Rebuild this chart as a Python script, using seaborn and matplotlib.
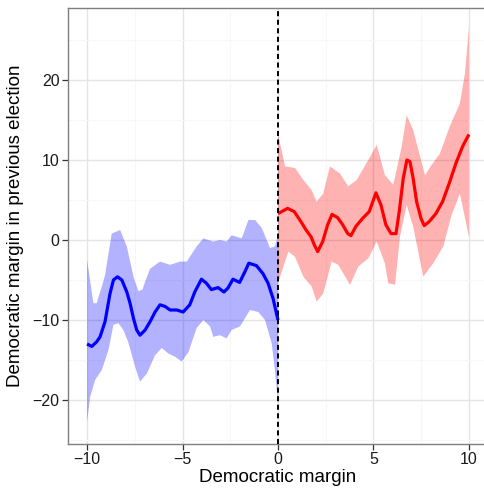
import numpy as np
import pandas as pd
import matplotlib
matplotlib.use("Agg")
import matplotlib.pyplot as plt
from matplotlib.ticker import MultipleLocator, FixedLocator
import seaborn as sns

# ---- data ----
blue_x = [-10.0, -9.75, -9.49, -9.32, -9.06, -8.80, -8.62, -8.41, -8.18, -7.92, -7.75, -7.57, -7.40,
          -7.23, -6.96, -6.70, -6.44, -6.18, -5.92, -5.65, -5.30, -4.97, -4.62, -4.36, -4.01, -3.75,
          -3.49, -3.14, -2.83, -2.62, -2.36, -2.01, -1.74, -1.53, -1.13, -0.79, -0.52, -0.26, 0.0]
blue_y = [-13.0, -13.3, -12.7, -12.1, -10.2, -6.7, -5.0, -4.6, -5.0, -6.5, -7.9, -9.8, -11.25,
          -11.9, -11.25, -10.2, -9.0, -8.1, -8.3, -8.75, -8.75, -9.0, -8.1, -6.5, -4.9, -5.4,
          -6.2, -5.95, -6.5, -6.0, -4.9, -5.3, -4.0, -2.9, -3.2, -4.2, -5.4, -7.3, -10.0]

blue_hi_x = [-10.0, -9.67, -9.50, -9.41, -9.20, -9.06, -8.71, -8.27, -7.92, -7.57, -7.31, -7.10,
             -6.96, -6.70, -6.53, -6.18, -5.65, -5.13, -4.78, -4.26, -3.91, -3.39, -3.04, -2.69,
             -2.43, -1.90, -1.55, -1.20, -0.85, -0.42, -0.16, 0.0]
blue_hi_y = [-2.5, -7.9, -7.9, -7.2, -5.6, -4.4, 0.8, 1.25, -0.8, -4.6, -6.4, -6.2,
             -5.2, -3.6, -3.3, -2.7, -3.1, -2.7, -2.7, -0.8, 0.2, -0.2, 0.0, -0.2,
             0.6, 0.2, 2.5, 2.5, 1.5, -1.0, -0.8, 0.6]

blue_lo_x = [-10.0, -9.84, -9.58, -9.23, -8.88, -8.62, -8.36, -8.10, -7.84, -7.49, -7.23, -6.87,
             -6.44, -6.09, -5.74, -5.39, -5.04, -4.69, -4.26, -3.91, -3.56, -3.39, -3.04, -2.69,
             -2.43, -1.99, -1.47, -1.03, -0.68, -0.33, -0.16, 0.0]
blue_lo_y = [-22.7, -19.6, -17.5, -16.25, -13.75, -10.6, -10.4, -11.25, -12.8, -15.8, -17.7, -16.7,
             -14.4, -13.5, -14.2, -14.6, -15.2, -14.0, -11.0, -10.0, -10.8, -12.1, -11.9, -12.3,
             -11.25, -10.8, -8.75, -9.0, -10.0, -12.9, -16.25, -20.5]

red_x = [0.0, 0.5, 0.85, 1.20, 1.47, 1.73, 1.90, 2.08, 2.34, 2.60, 2.83, 3.12, 3.39, 3.65, 3.82,
         4.08, 4.43, 4.78, 5.13, 5.39, 5.65, 5.92, 6.18, 6.35, 6.56, 6.75, 6.91, 7.08, 7.26, 7.49,
         7.66, 7.92, 8.27, 8.62, 8.97, 9.32, 9.67, 10.0]
red_y = [3.3, 3.95, 3.55, 2.3, 1.25, 0.4, -0.6, -1.45, -0.2, 1.9, 3.2, 2.8, 1.9, 0.8, 0.55,
         1.7, 2.7, 3.55, 5.9, 4.4, 1.9, 0.8, 0.8, 3.55, 7.7, 10.0, 9.8, 7.7, 4.8, 2.7,
         1.8, 2.3, 3.3, 4.8, 7.1, 9.6, 11.7, 13.2]

red_hi_x = [0.0, 0.37, 0.89, 1.33, 1.76, 2.02, 2.37, 2.72, 3.25, 3.68, 4.12, 4.73, 5.17, 5.60,
            6.04, 6.48, 6.74, 7.08, 7.70, 8.05, 8.48, 9.0, 9.53, 9.79, 10.0]
red_hi_y = [13.3, 9.2, 9.0, 7.5, 6.25, 4.8, 5.8, 9.2, 8.3, 6.7, 7.5, 10.0, 11.9, 8.1,
            6.9, 11.7, 15.6, 13.75, 8.1, 9.4, 10.8, 14.2, 17.1, 20.8, 26.5]

red_lo_x = [0.0, 0.54, 0.89, 1.33, 1.76, 2.02, 2.37, 2.81, 3.16, 3.77, 4.21, 4.73, 5.17, 5.60,
            5.77, 6.13, 6.39, 6.74, 7.08, 7.61, 8.13, 8.66, 9.09, 9.53, 10.0]
red_lo_y = [-5.4, -1.45, -2.1, -4.6, -5.8, -7.7, -6.7, -2.7, -3.1, -5.6, -3.3, -2.3, -0.2, -2.9,
            -5.4, -5.6, 0.4, 4.4, 1.7, -4.6, -2.9, -0.8, 3.1, 5.8, 0.4]

x_ticks = [-10, -5, 0, 5, 10]
y_ticks = [-20, -10, 0, 10, 20]
x_label = "Democratic margin"
y_label = "Democratic margin in previous election"

# ---- style ----
sns.set_theme(style="white")
plt.rcParams["font.family"] = ["Liberation Sans", "DejaVu Sans"]

fig = plt.figure(figsize=(4.85, 4.90), dpi=100)
ax = fig.add_axes([68 / 485, 46 / 490, 420 / 485, 436 / 490])

# ribbons
ax.fill(np.concatenate([blue_hi_x, blue_lo_x[::-1]]),
        np.concatenate([blue_hi_y, blue_lo_y[::-1]]),
        color="#0000FF", alpha=0.3, linewidth=0, zorder=2)
ax.fill(np.concatenate([red_hi_x, red_lo_x[::-1]]),
        np.concatenate([red_hi_y, red_lo_y[::-1]]),
        color="#FF0000", alpha=0.3, linewidth=0, zorder=2)

blue_df = pd.DataFrame({"x": blue_x, "y": blue_y})
red_df = pd.DataFrame({"x": red_x, "y": red_y})
sns.lineplot(data=blue_df, x="x", y="y", ax=ax, color="#0000FF", linewidth=2.3,
             sort=False, zorder=3, solid_joinstyle="round", solid_capstyle="butt")
sns.lineplot(data=red_df, x="x", y="y", ax=ax, color="#FF0000", linewidth=2.3,
             sort=False, zorder=3, solid_joinstyle="round", solid_capstyle="butt")

ax.axvline(0, color="black", linewidth=1.4, linestyle=(0, (2.6, 1.8)), zorder=4)

ax.set_xlim(-11, 11)
ax.set_ylim(-25.5, 29)
ax.xaxis.set_major_locator(FixedLocator(x_ticks))
ax.yaxis.set_major_locator(FixedLocator(y_ticks))
ax.xaxis.set_minor_locator(MultipleLocator(2.5))
ax.yaxis.set_minor_locator(MultipleLocator(5))
ax.set_xticklabels([str(t).replace("-", "\u2212") for t in x_ticks])
ax.set_yticklabels([str(t).replace("-", "\u2212") for t in y_ticks])

ax.grid(which="major", color="#E5E5E5", linewidth=1.0, zorder=0)
ax.grid(which="minor", color="#F7F7F7", linewidth=0.8, zorder=0)
ax.set_axisbelow(True)

for s in ax.spines.values():
    s.set_color("#7F7F7F")
    s.set_linewidth(1.0)

ax.tick_params(which="major", direction="out", length=4, width=0.9, color="#333333",
               labelsize=11.5, labelcolor="#1A1A1A", pad=2, bottom=True, left=True)
ax.tick_params(which="minor", length=0)

ax.set_xlabel(x_label, fontsize=13.5, color="black", labelpad=1)
ax.set_ylabel(y_label, fontsize=13.5, color="black", labelpad=6)

fig.savefig("out.png", dpi=100)
